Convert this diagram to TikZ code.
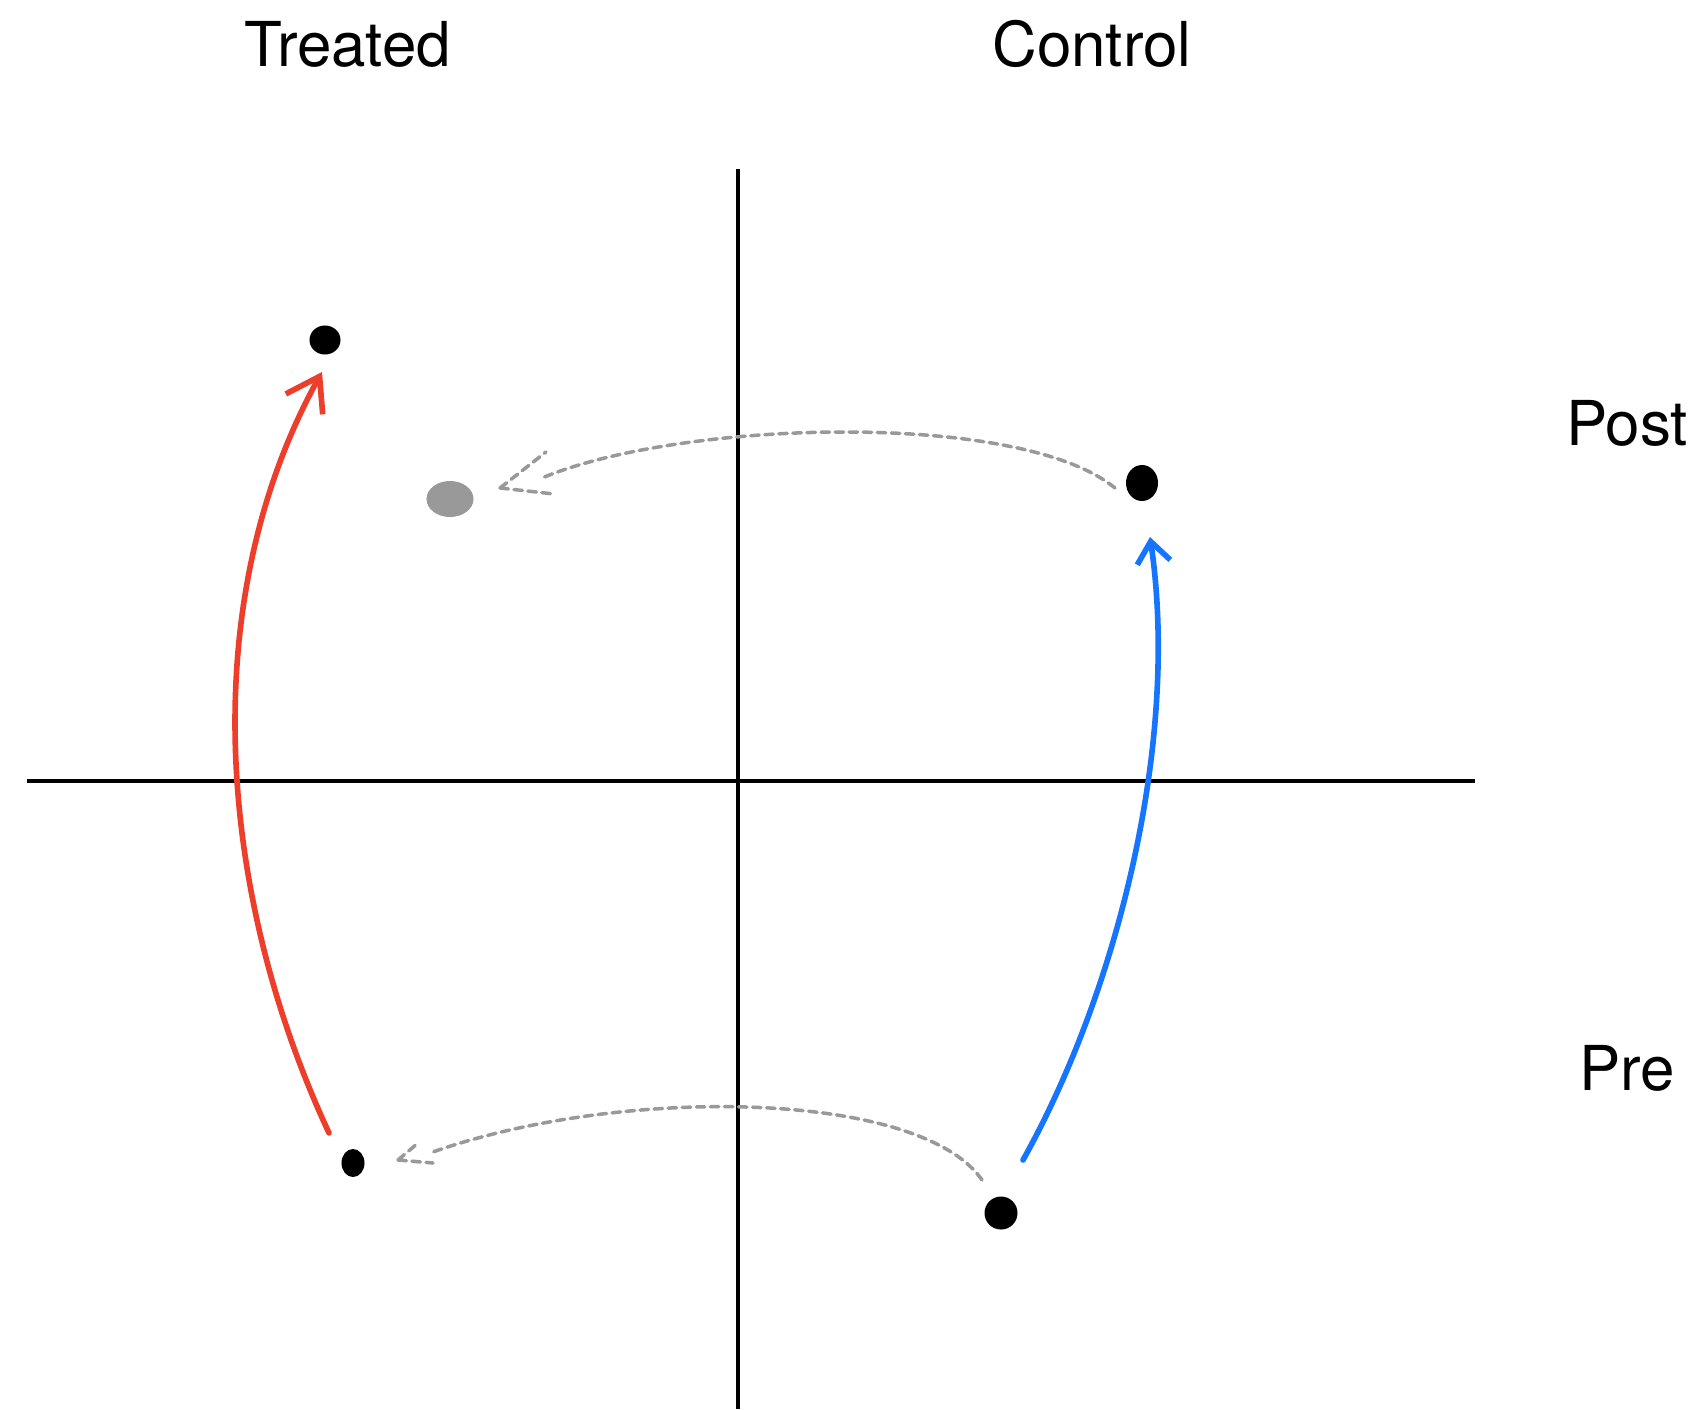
\documentclass[tikz,border=0pt]{standalone}
\usepackage{fontspec}
\setmainfont{TeX Gyre Heros}
\usetikzlibrary{arrows.meta,shapes.geometric}
\definecolor{treatred}{RGB}{236,62,42}
\definecolor{ctrlblue}{RGB}{22,117,255}
\definecolor{cfgrey}{RGB}{153,153,153}

\begin{document}
\begin{tikzpicture}[x=0.01cm, y=-0.01cm,
    dotpt/.style={ellipse, fill=black, inner sep=0pt},
    heading/.style={font=\fontsize{17.6}{21}\selectfont, anchor=base},
    axisline/.style={line width=1pt},
    trendline/.style={line width=1.6pt, line cap=round},
    cfline/.style={cfgrey, line width=1pt, dash pattern=on 2.4pt off 1.6pt, line cap=round}]
    \useasboundingbox (0,0) rectangle (1700,1409);

    % Axes
    \draw[axisline] (27,781) -- (1475,781);
    \draw[axisline] (738,169) -- (738,1409);

    % Column labels
    \node[heading] (treated) at (348,66) {Treated};
    \node[heading] (control) at (1092,66) {Control};

    % Row labels
    \node[heading] (post) at (1627,445) {Post};
    \node[heading] (pre) at (1627,1090) {Pre};

    % Observed means
    \node[dotpt, minimum width=3.1mm, minimum height=2.9mm] (tpost) at (325,340) {};
    \node[dotpt, minimum width=3.2mm, minimum height=3.6mm] (cpost) at (1142,483) {};
    \node[dotpt, minimum width=2.3mm, minimum height=2.8mm] (tpre) at (353,1163) {};
    \node[dotpt, minimum width=3.3mm, minimum height=3.3mm] (cpre) at (1001,1213) {};

    % Counterfactual mean (grey)
    \node[dotpt, fill=cfgrey, minimum width=4.7mm, minimum height=3.6mm] (cf) at (450,499) {};

    % Arrow ends
    \coordinate (r0) at ([shift={(-24,-30)}]tpre.center);
    \coordinate (r1) at ([shift={(-3,32)}]tpost.center);
    \coordinate (b0) at ([shift={(22,-53)}]cpre.center);
    \coordinate (b1) at ([shift={(8,54)}]cpost.center);
    \coordinate (g0) at ([shift={(-27,5)}]cpost.center);
    \coordinate (g1) at ([shift={(92,-21)}]cf.center);
    \coordinate (gtip) at ([shift={(50,-11)}]cf.center);
    \coordinate (h0) at ([shift={(-19,-33)}]cpre.center);
    \coordinate (h1) at ([shift={(77,-10)}]tpre.center);
    \coordinate (htip) at ([shift={(45,-3)}]tpre.center);

    % Treated change (red)
    \draw[trendline, treatred, -{Straight Barb[length=9pt,width=12pt]}]
        (r0) .. controls (216,890) and (196,600) .. (r1);

    % Control change (blue)
    \draw[trendline, ctrlblue, -{Straight Barb[length=6pt,width=9.5pt]}]
        (b0) .. controls (1118,990) and (1180,740) .. (b1);

    % Control change carried over (dashed grey)
    \draw[cfline] (g0) .. controls (1020,410) and (680,420) .. (g1);
    \draw[cfline] (gtip) -- +(46,-36) (gtip) -- +(54,6);

    % Pre gap (dashed grey)
    \draw[cfline] (h0) .. controls (920,1090) and (620,1085) .. (h1);
    \draw[cfline] (htip) -- +(20,-17) (htip) -- +(35,3);
\end{tikzpicture}
\end{document}
